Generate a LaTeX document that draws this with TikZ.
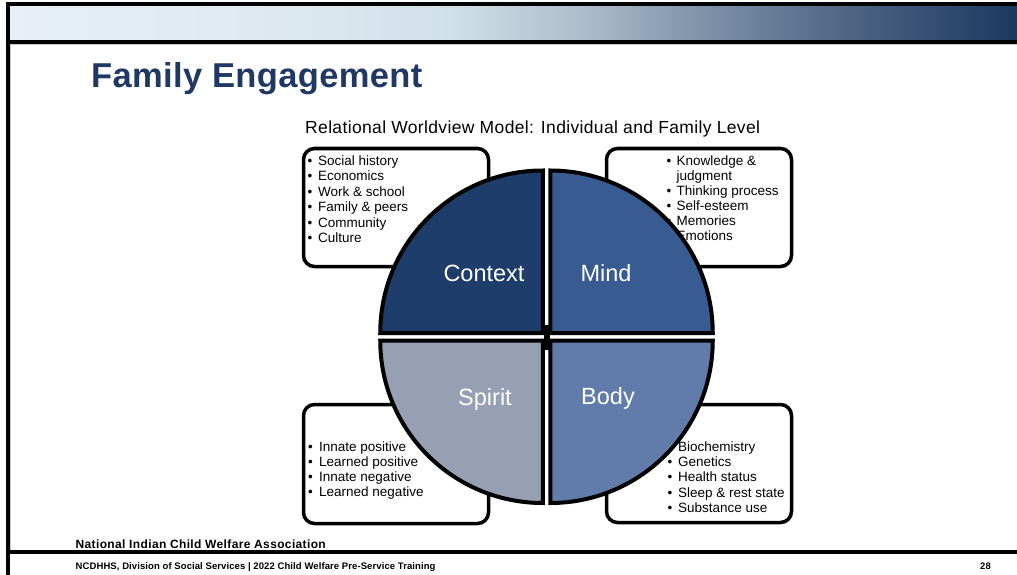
\documentclass[tikz,border=0pt]{standalone}
\usepackage{fontspec}
\setmainfont{Liberation Sans}
\definecolor{g0}{RGB}{232,239,246}
\definecolor{g1}{RGB}{220,232,240}
\definecolor{g2}{RGB}{208,224,233}
\definecolor{g3}{RGB}{172,190,204}
\definecolor{g4}{RGB}{125,145,168}
\definecolor{g5}{RGB}{82,105,135}
\definecolor{g6}{RGB}{29,55,95}
\definecolor{titleblue}{RGB}{31,56,100}
\definecolor{ctxc}{RGB}{31,61,107}
\definecolor{mindc}{RGB}{56,92,146}
\definecolor{spiritc}{RGB}{151,160,179}
\definecolor{bodyc}{RGB}{97,124,170}
\pgfdeclarehorizontalshading{topbar}{100bp}{color(0bp)=(g0); color(25bp)=(g0); color(39.4bp)=(g1); color(46.85bp)=(g2); color(53.3bp)=(g3); color(59.5bp)=(g4); color(65.9bp)=(g5); color(75bp)=(g6); color(100bp)=(g6)}
\newcommand\bulA{\makebox[10.5pt][l]{•}}
\newcommand\bulB{\makebox[10pt][l]{•}}
\newcommand\bulC{\makebox[11pt][l]{•}}
\begin{document}
\begin{tikzpicture}[x=1pt,y=-1pt,
  listbox/.style={draw=black,line width=3.5pt,rounded corners=11pt,fill=white},
  quad/.style={draw=black,line width=4pt,line join=miter},
  qlabel/.style={anchor=base,inner sep=0pt,text=white,font=\fontsize{23.5}{26}\selectfont},
  litem/.style={anchor=base west,inner sep=0pt,font=\fontsize{13.5}{15}\selectfont}]
\useasboundingbox (0,0) rectangle (1017,575);
\fill[white] (0,0) rectangle (1017,575);
% top banner and frame
\shade[shading=topbar] (10,6) rectangle (1017,40);
\fill[black] (6,2) rectangle (1017,6);
\fill[black] (6,40) rectangle (1017,44);
\fill[gray!45] (10,44) rectangle (1017,45.3);
\fill[gray!45] (10,44) rectangle (11.3,549.5);
\fill[black] (6,2) rectangle (10,575);
\fill[black] (6,549.5) rectangle (1017,553.5);
% titles
\node[anchor=base west,inner sep=0pt,text=titleblue,font=\fontsize{34.5}{38}\bfseries\addfontfeatures{LetterSpace=1}] (title) at (91,88) {Family Engagement};
\node[anchor=base west,inner sep=0pt,font=\fontsize{17.5}{20}\selectfont\addfontfeatures{LetterSpace=2}] (subtitle) at (305,134) {Relational Worldview Model: Individual and Family Level};
% list boxes
\draw[listbox] (303.5,148.5) rectangle (488.5,266.5);
\draw[listbox] (606.5,148.5) rectangle (791.5,266.5);
\draw[listbox] (303.5,404.5) rectangle (488.5,523.5);
\draw[listbox] (606.5,404.5) rectangle (791.5,522.5);
% lists
\foreach \t [count=\i] in {Social history, Economics, Work \& school, Family \& peers, Community, Culture}
  \node[litem] (ctx\i) at (307.5,{165+15.5*(\i-1)}) {\bulA\t};
\foreach \t [count=\i] in {{\bulB Knowledge \&}, {\hspace*{10pt}judgment}, {\bulB Thinking process}, {\bulB Self-esteem}, {\bulB Memories}, {\bulB Emotions}}
  \node[litem] (mnd\i) at (666.5,{165+15*(\i-1)}) {\t};
\foreach \t [count=\i] in {Innate positive, Learned positive, Innate negative, Learned negative}
  \node[litem] (spr\i) at (308,{451+15.3*(\i-1)}) {\bulC\t};
\foreach \t [count=\i] in {Biochemistry, Genetics, Health status, Sleep \& rest state, Substance use}
  \node[litem] (bod\i) at (667.5,{451+15.4*(\i-1)}) {\bulA\t};
% quadrants
\draw[quad,fill=ctxc] (542.75,333) -- ++(-162.5,0) arc[start angle=180,end angle=270,radius=162.5] -- cycle;
\draw[quad,fill=mindc] (550.25,333) -- ++(0,-162.5) arc[start angle=270,end angle=360,radius=162.5] -- cycle;
\draw[quad,fill=bodyc] (550.25,340.5) -- ++(162.5,0) arc[start angle=0,end angle=90,radius=162.5] -- cycle;
\draw[quad,fill=spiritc] (542.75,340.5) -- ++(0,162.5) arc[start angle=90,end angle=180,radius=162.5] -- cycle;
\fill[black] (544,325) rectangle (550,350);
% quadrant labels
\node[qlabel] (lctx) at (484,281.7) {Context};
\node[qlabel] (lmind) at (606,281.7) {Mind};
\node[qlabel] (lspirit) at (485,405) {Spirit};
\node[qlabel] (lbody) at (608,404) {Body};
% footer
\node[anchor=base west,inner sep=0pt,font=\fontsize{12}{14}\bfseries\addfontfeatures{LetterSpace=3}] (nicwa) at (75.5,548) {National Indian Child Welfare Association};
\node[anchor=base west,inner sep=0pt,font=\fontsize{9.5}{11}\bfseries\addfontfeatures{LetterSpace=1}] (foot) at (75.5,569.5) {NCDHHS, Division of Social Services | 2022 Child Welfare Pre-Service Training};
\node[anchor=base east,inner sep=0pt,font=\fontsize{9.5}{11}\bfseries] (page) at (991,569.5) {28};
\end{tikzpicture}
\end{document}
